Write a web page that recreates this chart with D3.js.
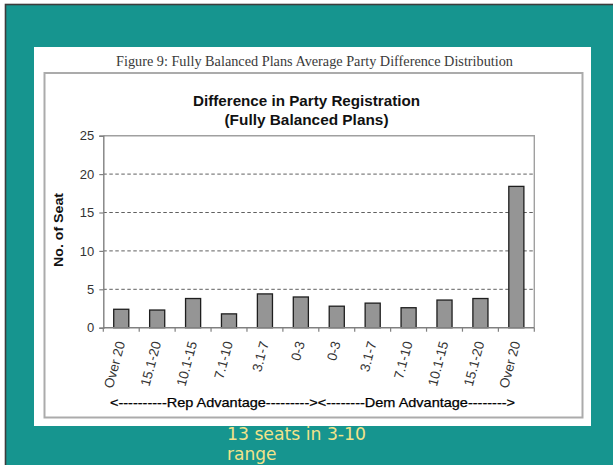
<!DOCTYPE html>
<html>
<head>
<meta charset="utf-8">
<script src="https://cdn.jsdelivr.net/npm/d3@7"></script>
<style>
  html, body { margin: 0; padding: 0; background: #ffffff; }
  svg { display: block; }
</style>
</head>
<body>
<svg id="chart" width="613" height="465"></svg>
<script>
// ---- data ----
const categories = ["Over 20", "15.1-20", "10.1-15", "7.1-10", "3.1-7", "0-3",
                    "0-3", "3.1-7", "7.1-10", "10.1-15", "15.1-20", "Over 20"];
const seats = [2.4, 2.3, 3.8, 1.8, 4.4, 4.0, 2.8, 3.2, 2.6, 3.6, 3.8, 18.4];
const yTicks = [0, 5, 10, 15, 20, 25];
const figureCaption = "Figure 9: Fully Balanced Plans Average Party Difference Distribution";
const chartTitle = ["Difference in Party Registration", "(Fully Balanced Plans)"];
const yAxisTitle = "No. of Seat";
const xAxisTitle = "<----------Rep Advantage---------><--------Dem Advantage-------->";
const note = ["13 seats in 3-10", "range"];

// ---- layout ----
const svg = d3.select("#chart");
const plot = { left: 103.3, right: 534.3, top: 135.7, bottom: 327.7 };

// slide background
svg.append("rect").attr("x", 5.5).attr("y", 4.5).attr("width", 620).attr("height", 470)
  .attr("fill", "#16958f").attr("stroke", "#3c3c3c").attr("stroke-width", 1.6);

// white panel
svg.append("rect").attr("x", 34).attr("y", 47).attr("width", 557).attr("height", 379)
  .attr("fill", "#ffffff");

// caption
svg.append("text").attr("x", 116).attr("y", 66)
  .attr("textLength", 397).attr("lengthAdjust", "spacingAndGlyphs")
  .attr("font-family", "Liberation Serif, Times New Roman, serif")
  .attr("font-size", 14).attr("fill", "#3a3a3a")
  .text(figureCaption);

// chart border
svg.append("rect").attr("x", 44.5).attr("y", 73).attr("width", 538).attr("height", 344.5)
  .attr("fill", "none").attr("stroke", "#ababab").attr("stroke-width", 2);

// chart title
const titleWidths = [227, 164];
const titleY = [106, 125];
chartTitle.forEach((t, i) => {
  svg.append("text").attr("x", 306.5).attr("y", titleY[i]).attr("text-anchor", "middle")
    .attr("textLength", titleWidths[i]).attr("lengthAdjust", "spacingAndGlyphs")
    .attr("font-family", "Liberation Sans, Arial, sans-serif")
    .attr("font-weight", "bold").attr("font-size", 15).attr("fill", "#111")
    .text(t);
});

// scales
const x = d3.scaleBand().domain(d3.range(categories.length))
  .range([plot.left, plot.right]).paddingInner(0.58).paddingOuter(0.29);
const y = d3.scaleLinear().domain([0, 25]).range([plot.bottom, plot.top]);

// gridlines
svg.append("g").selectAll("line").data(yTicks.filter(v => v > 0 && v < 25)).join("line")
  .attr("x1", plot.left).attr("x2", plot.right)
  .attr("y1", d => y(d)).attr("y2", d => y(d))
  .attr("stroke", "#606060").attr("stroke-width", 1).attr("stroke-dasharray", "3.5,2.5");

// plot frame (top/right)
svg.append("path")
  .attr("d", `M${plot.left},${plot.top}H${plot.right}V${plot.bottom}`)
  .attr("fill", "none").attr("stroke", "#a0a0a0").attr("stroke-width", 1.4);

// bars
svg.append("g").selectAll("rect").data(seats).join("rect")
  .attr("x", (d, i) => x(i)).attr("width", x.bandwidth())
  .attr("y", d => y(d)).attr("height", d => y(0) - y(d))
  .attr("fill", "#959595").attr("stroke", "#1e1e1e").attr("stroke-width", 1.3);

// y axis
const yAxis = d3.axisLeft(y).tickValues(yTicks).tickSize(4).tickPadding(5);
const gy = svg.append("g").attr("transform", `translate(${plot.left},0)`).call(yAxis);
gy.select(".domain").attr("stroke", "#808080").attr("stroke-width", 1.4);
gy.selectAll(".tick line").attr("stroke", "#808080").attr("stroke-width", 1.2);
gy.selectAll(".tick text").attr("font-family", "Liberation Sans, Arial, sans-serif")
  .attr("font-size", 13).attr("fill", "#333");

// x axis line and boundary ticks
svg.append("line").attr("x1", plot.left).attr("x2", plot.right)
  .attr("y1", plot.bottom).attr("y2", plot.bottom)
  .attr("stroke", "#808080").attr("stroke-width", 1.4);
svg.append("g").selectAll("line").data(d3.range(categories.length + 1)).join("line")
  .attr("x1", i => plot.left + i * x.step()).attr("x2", i => plot.left + i * x.step())
  .attr("y1", plot.bottom).attr("y2", plot.bottom + 4)
  .attr("stroke", "#808080").attr("stroke-width", 1.2);

// x labels
svg.append("g").selectAll("text").data(categories).join("text")
  .attr("transform", (d, i) => `translate(${x(i) + x.bandwidth() / 2 + 4},${plot.bottom + 15}) rotate(-75)`)
  .attr("text-anchor", "end")
  .attr("font-family", "Liberation Sans, Arial, sans-serif")
  .attr("font-size", 13.5).attr("fill", "#333")
  .text(d => d);

// y axis title
svg.append("text")
  .attr("transform", "translate(63,230) rotate(-90)")
  .attr("text-anchor", "middle")
  .attr("textLength", 74).attr("lengthAdjust", "spacingAndGlyphs")
  .attr("font-family", "Liberation Sans, Arial, sans-serif")
  .attr("font-weight", "bold").attr("font-size", 13).attr("fill", "#111")
  .text(yAxisTitle);

// x axis title
svg.append("text").attr("x", 110).attr("y", 407)
  .attr("textLength", 405).attr("lengthAdjust", "spacingAndGlyphs")
  .attr("font-family", "Liberation Sans, Arial, sans-serif")
  .attr("font-size", 13).attr("fill", "#000")
  .attr("stroke", "#000").attr("stroke-width", 0.25)
  .text(xAxisTitle);

// note text
note.forEach((t, i) => {
  const el = svg.append("text").attr("x", 227).attr("y", 440 + i * 20)
    .attr("font-family", "DejaVu Sans, Verdana, Tahoma, sans-serif")
    .attr("font-size", 17).attr("fill", "#f3e38a")
    .text(t);
  if (i === 0) el.attr("textLength", 139).attr("lengthAdjust", "spacingAndGlyphs");
});
</script>
</body>
</html>
